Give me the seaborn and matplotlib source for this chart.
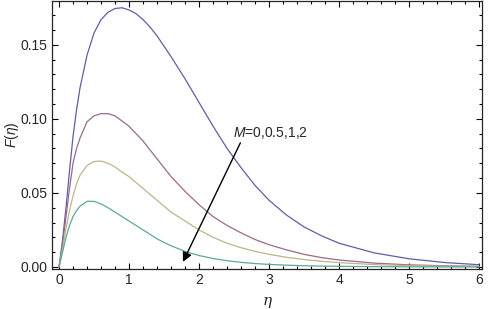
import numpy as np
import pandas as pd
import matplotlib
matplotlib.use("Agg")
import matplotlib.pyplot as plt
from matplotlib.ticker import MultipleLocator, FormatStrFormatter
import seaborn as sns

# values
eta = [0, 0.05, 0.1, 0.15, 0.2, 0.25,
       0.3, 0.4, 0.5, 0.6, 0.7, 0.8, 0.9, 1.0, 1.1, 1.2, 1.3, 1.4, 1.5, 1.6,
       1.8, 2.0, 2.2, 2.4, 2.6, 2.8, 3.0,
       3.25, 3.5, 3.75, 4.0,
       4.5, 5.0, 5.5, 6.0]
F_M0 = [0, 0.018, 0.040, 0.065, 0.088, 0.106,
        0.121, 0.143, 0.158, 0.167, 0.172, 0.1745, 0.175, 0.1735, 0.171, 0.167,
        0.162, 0.156, 0.149, 0.142,
        0.127, 0.111, 0.095, 0.080, 0.067, 0.055, 0.045,
        0.035, 0.027, 0.021, 0.016,
        0.0095, 0.0055, 0.003, 0.0015]
F_M05 = [0, 0.015, 0.034, 0.053, 0.070, 0.080,
         0.087, 0.098, 0.102, 0.1035, 0.1035, 0.102, 0.0985, 0.095, 0.090, 0.085,
         0.079, 0.073, 0.067, 0.061,
         0.051, 0.042, 0.034, 0.028, 0.023, 0.0185, 0.015,
         0.0115, 0.0085, 0.0063, 0.0047,
         0.0026, 0.0014, 0.0008, 0.0004]
F_M1 = [0, 0.012, 0.026, 0.038, 0.048, 0.056,
        0.062, 0.0685, 0.0712, 0.0715, 0.070, 0.0675, 0.064, 0.061, 0.057, 0.053,
        0.049, 0.045, 0.041, 0.037,
        0.031, 0.025, 0.020, 0.016, 0.013, 0.0105, 0.0085,
        0.0065, 0.005, 0.0038, 0.0029,
        0.0016, 0.0009, 0.0005, 0.0003]
F_M2 = [0, 0.010, 0.020, 0.028, 0.034, 0.038,
        0.041, 0.0443, 0.0443, 0.0425, 0.040, 0.037, 0.034, 0.031, 0.028, 0.025,
        0.022, 0.019, 0.0165, 0.0143,
        0.0105, 0.0077, 0.0057, 0.0042, 0.0031, 0.0023, 0.0017,
        0.0012, 0.0008, 0.0006, 0.0004,
        0.0002, 0.0001, 0.0, 0.0]
M_labels = ["0", "0.5", "1", "2"]
colors = ["#5d5fa3", "#9a6a8c", "#bdb58a", "#5ca89a"]

df = pd.concat([pd.DataFrame({"eta": eta, "F": f, "M": m})
                for f, m in zip([F_M0, F_M05, F_M1, F_M2], M_labels)])

sns.set_style("ticks")
plt.rcParams["font.family"] = ["Liberation Sans", "DejaVu Sans"]
plt.rcParams["mathtext.fontset"] = "custom"
plt.rcParams["mathtext.rm"] = "Liberation Sans"
plt.rcParams["mathtext.it"] = "Liberation Sans:italic"

fig = plt.figure(figsize=(4.88, 3.09), dpi=100)
ax = fig.add_axes([0.1066, 0.1294, 0.881, 0.868])

sns.lineplot(data=df, x="eta", y="F", hue="M", palette=colors, ax=ax,
             linewidth=0.9, legend=False, sort=False)

ax.set_xlim(-0.1, 6.04)
ax.set_ylim(-0.0014, 0.1797)
ax.xaxis.set_major_locator(MultipleLocator(1))
ax.xaxis.set_minor_locator(MultipleLocator(0.2))
ax.yaxis.set_major_locator(MultipleLocator(0.05))
ax.yaxis.set_minor_locator(MultipleLocator(0.01))
ax.yaxis.set_major_formatter(FormatStrFormatter("%.2f"))
ax.tick_params(which="both", direction="in", top=True, right=True,
               labelsize=10, width=0.8, color="black", pad=3)
ax.tick_params(which="major", length=4)
ax.tick_params(which="minor", length=2.2)
for s in ax.spines.values():
    s.set_linewidth(0.9)

ax.set_xlabel("η", fontsize=11, family="DejaVu Serif", style="italic",
              labelpad=5)
ax.set_ylabel(r"$F(\eta)$", fontsize=10)
ax.yaxis.set_label_coords(-0.072, 0.5)

ax.annotate("", xy=(1.77, 0.0034), xytext=(2.59, 0.0838),
            arrowprops=dict(arrowstyle="-|>", color="black", lw=1.0,
                            mutation_scale=14, shrinkA=0, shrinkB=0))
ax.text(2.49, 0.088, r"$M$=0,0.5,1,2", fontsize=10, ha="left", va="baseline")

fig.savefig("out.png", dpi=100)
